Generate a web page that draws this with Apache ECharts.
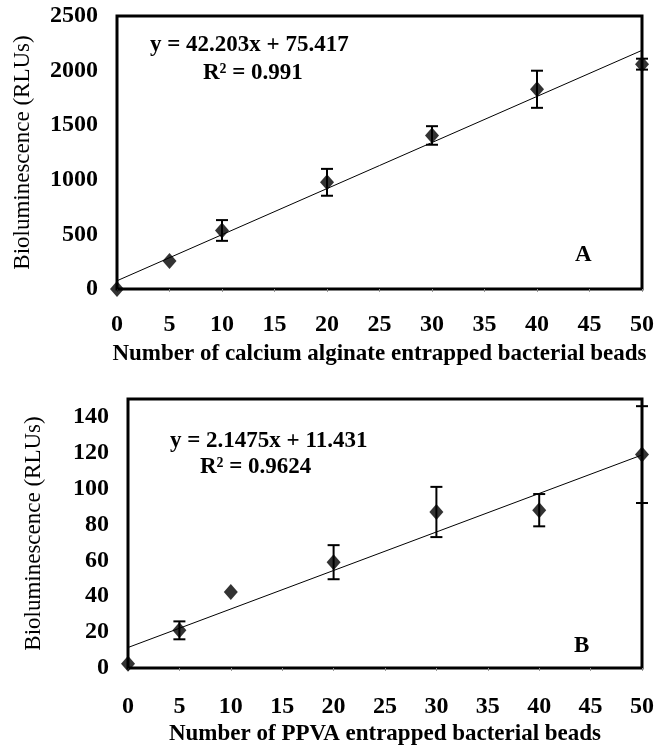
<!DOCTYPE html>
<html><head><meta charset="utf-8">
<script src="https://cdn.jsdelivr.net/npm/echarts@6/dist/echarts.min.js"></script>
<style>html,body{margin:0;padding:0;background:#fff}#c{width:657px;height:747px}</style>
</head><body><div id="c"></div>
<script>
const beads = [0, 5, 10, 20, 30, 40, 50];
const lumA = [0, 257, 536, 977, 1406, 1829, 2059];
const errA = [0, 0, 95, 123, 85, 170, 50];
const lumB = [2.4, 21, 42.4, 59, 87, 88, 119];
const errB = [0, 5, 0, 9.5, 14, 9, 27];
const trendA = [[0, 75.417], [50, 2185.567]];
const trendB = [[0, 11.431], [50, 118.806]];
const xTicks = [0, 5, 10, 15, 20, 25, 30, 35, 40, 45, 50];
const yTicksA = [0, 500, 1000, 1500, 2000, 2500];
const yTicksB = [0, 20, 40, 60, 80, 100, 120, 140];

const FONT = "'Liberation Serif', 'Times New Roman', serif";
const lbl = {fontFamily: FONT, fontWeight: 'bold', fontSize: 24, color: '#000'};

function pts(xs, ys){ return xs.map((x,i)=>[x, ys[i]]); }
function errs(xs, ys, es){ return xs.map((x,i)=>[x, ys[i]-es[i], ys[i]+es[i], es[i]]); }

function errorItem(params, api){
  if (api.value(3) === 0) return null;
  const x = api.value(0);
  const lo = api.coord([x, api.value(1)]);
  const hi = api.coord([x, api.value(2)]);
  const w = 6;
  const st = {stroke: '#000', lineWidth: 2};
  return {type: 'group', children: [
    {type: 'line', shape: {x1: lo[0], y1: lo[1], x2: hi[0], y2: hi[1]}, style: st},
    {type: 'line', shape: {x1: lo[0]-w, y1: lo[1], x2: lo[0]+w, y2: lo[1]}, style: st},
    {type: 'line', shape: {x1: hi[0]-w, y1: hi[1], x2: hi[0]+w, y2: hi[1]}, style: st}
  ]};
}

function xAxis(idx, name, margin, gap){
  return {type: 'value', gridIndex: idx, min: 0, max: 50, interval: 5,
    name: name, nameLocation: 'middle', nameGap: gap,
    nameTextStyle: Object.assign({}, lbl, {fontSize: 23}),
    axisLine: {show: false}, splitLine: {show: false},
    axisTick: {show: true, length: 4, lineStyle: {color: '#999', type: 'dotted'}},
    axisLabel: Object.assign({margin: margin}, lbl)};
}
function yAxis(idx, max, interval){
  return {type: 'value', gridIndex: idx, min: 0, max: max, interval: interval,
    name: 'Bioluminescence (RLUs)', nameLocation: 'middle', nameGap: 83, nameRotate: 90,
    nameTextStyle: Object.assign({}, lbl, {fontWeight: 'normal', fontSize: 23}),
    axisLine: {show: false}, splitLine: {show: false}, axisTick: {show: false},
    axisLabel: Object.assign({margin: 19, showMaxLabel: max % interval === 0,
      formatter: v => (v % interval === 0 ? String(v) : '')}, lbl)};
}

const chart = echarts.init(document.getElementById('c'));
const tfont = "bold 23px " + FONT;
chart.setOption({
  backgroundColor: '#fff',
  animation: false,
  grid: [
    {left: 117, top: 16, width: 525, height: 273, show: true, borderColor: '#000', borderWidth: 3, backgroundColor: 'transparent'},
    {left: 128, top: 399, width: 514, height: 273, show: true, borderColor: '#000', borderWidth: 3, backgroundColor: 'transparent'}
  ],
  xAxis: [xAxis(0, 'Number of calcium alginate entrapped bacterial beads', 24, 54),
          xAxis(1, 'Number of PPVA entrapped bacterial beads', 27, 55)],
  yAxis: [yAxis(0, 2500, 500), yAxis(1, 150, 20)],
  series: [
    {type: 'line', xAxisIndex: 0, yAxisIndex: 0, data: trendA, symbol: 'none', lineStyle: {color: '#000', width: 1}, z: 2},
    {type: 'custom', xAxisIndex: 0, yAxisIndex: 0, data: errs(beads, lumA, errA), renderItem: errorItem, z: 3, clip: false},
    {type: 'scatter', xAxisIndex: 0, yAxisIndex: 0, data: pts(beads, lumA), symbol: 'diamond', symbolSize: [14, 16], itemStyle: {color: '#000'}, z: 4},
    {type: 'line', xAxisIndex: 1, yAxisIndex: 1, data: trendB, symbol: 'none', lineStyle: {color: '#000', width: 1}, z: 2},
    {type: 'custom', xAxisIndex: 1, yAxisIndex: 1, data: errs(beads, lumB, errB), renderItem: errorItem, z: 3, clip: false},
    {type: 'scatter', xAxisIndex: 1, yAxisIndex: 1, data: pts(beads, lumB), symbol: 'diamond', symbolSize: [14, 16], itemStyle: {color: '#000'}, z: 4}
  ],
  graphic: [
    {type: 'text', left: 150, top: 34, style: {text: 'y = 42.203x + 75.417', font: tfont, fill: '#000'}},
    {type: 'text', left: 203, top: 62, style: {text: 'R² = 0.991', font: tfont, fill: '#000'}},
    {type: 'text', left: 575, top: 244, style: {text: 'A', font: tfont, fill: '#000'}},
    {type: 'text', left: 170, top: 430, style: {text: 'y = 2.1475x + 11.431', font: tfont, fill: '#000'}},
    {type: 'text', left: 200, top: 456, style: {text: 'R² = 0.9624', font: tfont, fill: '#000'}},
    {type: 'text', left: 574, top: 635, style: {text: 'B', font: tfont, fill: '#000'}}
  ]
});
</script></body></html>
